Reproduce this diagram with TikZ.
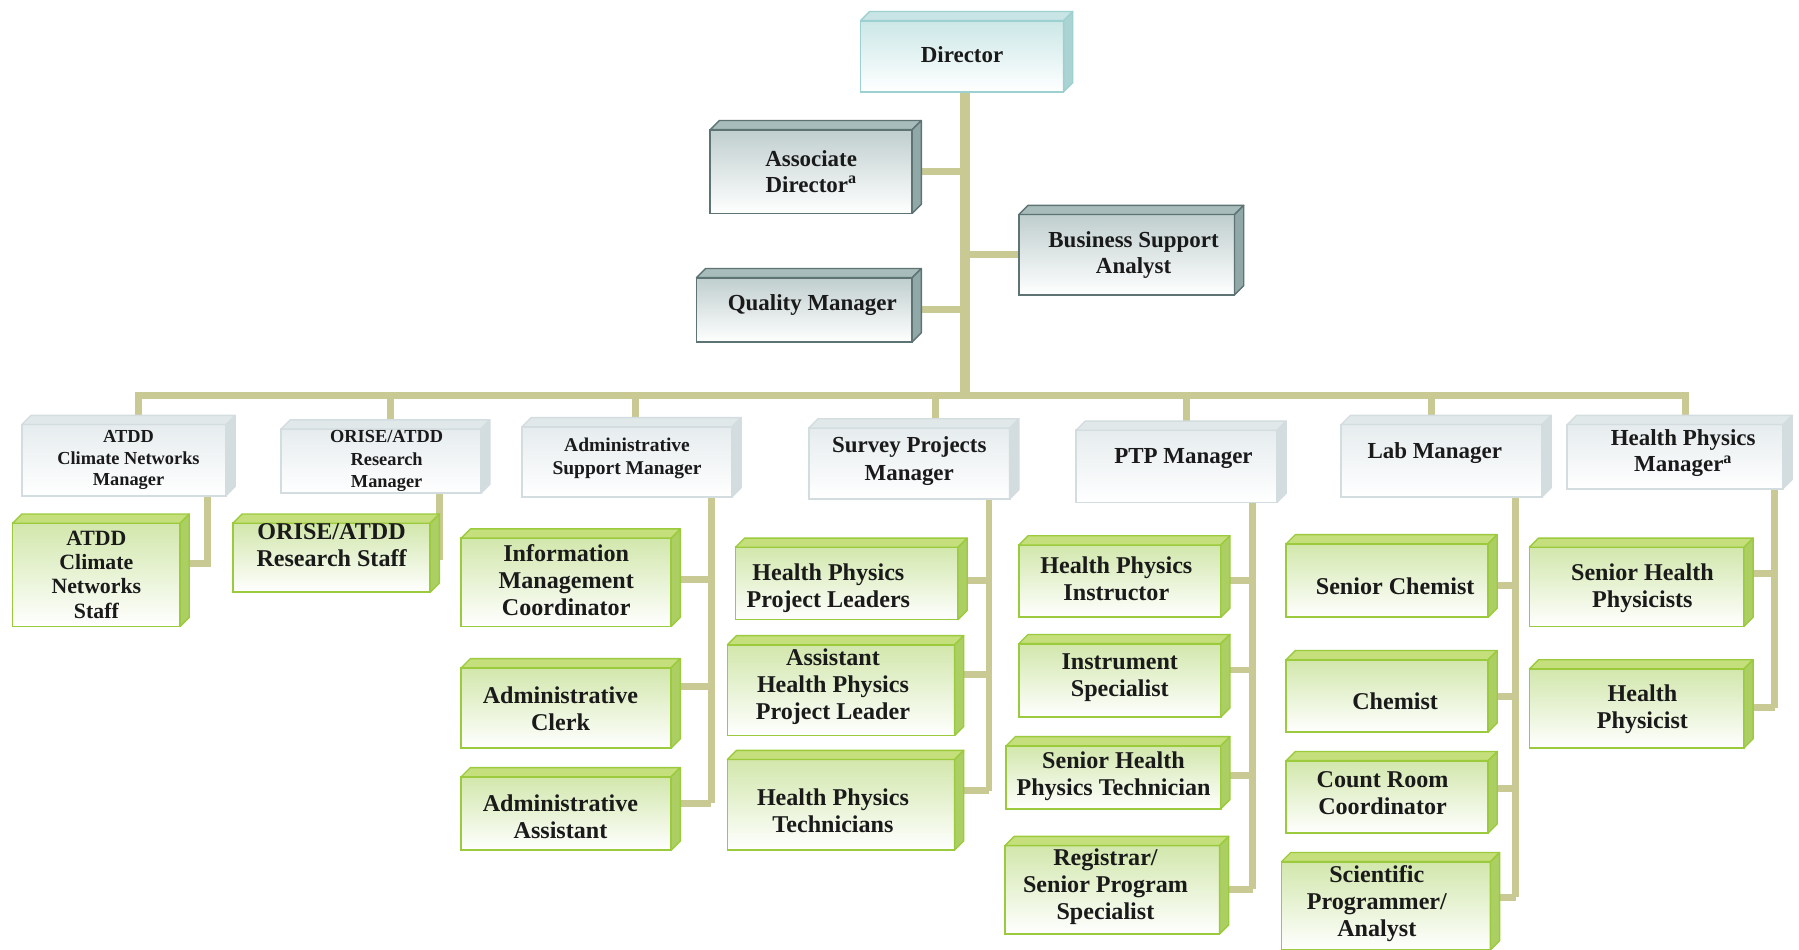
\documentclass[tikz,border=0pt]{standalone}
\usepackage{fontspec}
\setmainfont{Liberation Serif}
\pgfdeclarelayer{bg}
\pgfsetlayers{bg,main}
\definecolor{conn}{HTML}{C9C994}
\definecolor{txtc}{HTML}{1A1A1A}
% green staff boxes
\definecolor{grnB}{HTML}{9BCB3C}\definecolor{grnF}{HTML}{D2E7AC}
\definecolor{grnT}{HTML}{C5DF7C}\definecolor{grnS}{HTML}{ABCF62}
% manager boxes
\definecolor{mgrB}{HTML}{D3DCDE}\definecolor{mgrF}{HTML}{E6ECEE}
\definecolor{mgrT}{HTML}{E1E8EA}\definecolor{mgrS}{HTML}{D3DCDF}
% staff-office boxes
\definecolor{offB}{HTML}{5E7373}\definecolor{offF}{HTML}{C0CECE}
\definecolor{offT}{HTML}{A9BCBC}\definecolor{offS}{HTML}{90A8A8}
% director
\definecolor{dirB}{HTML}{9DD0D0}\definecolor{dirF}{HTML}{CCE7E7}
\definecolor{dirT}{HTML}{C9E4E4}\definecolor{dirS}{HTML}{ACD3D3}
\tikzset{
  frontbox/.style={rectangle, inner sep=0pt, outer sep=0pt, line width=1.5pt,
    draw=#1B, top color=#1F, bottom color=white},
  topface/.style={fill=#1T, draw=#1B, line width=1.2pt, line join=round},
  sideface/.style={fill=#1S, draw=#1B, line width=1.2pt, line join=round},
  boxtext/.style={align=center, text=txtc, inner sep=0pt,
    font=\fontsize{20}{23}\selectfont\bfseries},
  gtext/.style={font=\fontsize{21}{23.5}\selectfont\bfseries},
  conn/.style={draw=conn, line width=6pt},
  trunk/.style={draw=conn, line width=8pt},
}
% \obox{name}{kind}{x1}{y1}{x2}{y2}{text options}{text}
\newcommand\obox[8]{%
  \node[frontbox=#2, minimum width={#5-#3}, minimum height={#6-#4}]
     (#1) at ({(#3+#5)/2},{(#4+#6)/2}) {};
  \filldraw[topface=#2] (#1.north west) -- ++(8,-8)
     -- ([shift={(8,-8)}]#1.north east) -- (#1.north east) -- cycle;
  \filldraw[sideface=#2] (#1.north east) -- ++(8,-8)
     -- ([shift={(8,-8)}]#1.south east) -- (#1.south east) -- cycle;
  \node[boxtext, #7] at (#1.center) {#8};
}
\begin{document}
\begin{tikzpicture}[x=1pt, y=-1pt]
\useasboundingbox (0,0) rectangle (1568,828);
% top
\obox{dir}{dir}{750}{18}{927}{80}{yshift=1pt}{Director}
\obox{ad}{off}{619}{113}{795}{186}{yshift=0pt}{Associate\\Director\textsuperscript{a}}
\obox{bsa}{off}{888}{187}{1076}{257}{xshift=6pt}{Business Support\\Analyst}
\obox{qm}{off}{607}{242}{795}{298}{xshift=7pt, yshift=4pt}{Quality Manager}
% managers
\obox{m1}{mgr}{19}{370}{197}{432}{xshift=4pt, font=\fontsize{16}{19}\selectfont\bfseries}{ATDD\\Climate Networks\\Manager}
\obox{m2}{mgr}{245}{374}{419}{430}{xshift=5pt, font=\fontsize{16}{19.5}\selectfont\bfseries}{ORISE/ATDD\\Research\\Manager}
\obox{m3}{mgr}{455}{372}{638}{433}{yshift=3pt, font=\fontsize{17}{20}\selectfont\bfseries}{Administrative\\Support Manager}
\obox{m4}{mgr}{705}{373}{880}{435}{yshift=2pt, font=\fontsize{20}{24}\selectfont\bfseries}{Survey Projects\\Manager}
\obox{m5}{mgr}{938}{375}{1113}{438}{xshift=6pt, yshift=7pt}{PTP Manager}
\obox{m6}{mgr}{1169}{370}{1344}{433}{xshift=-6pt, yshift=7pt}{Lab Manager}
\obox{m7}{mgr}{1366}{370}{1554}{426}{xshift=7pt, yshift=3pt}{Health Physics\\Manager\textsuperscript{a}}
% staff
\obox{s11}{grn}{11}{456}{157}{546}{font=\fontsize{19}{21}\selectfont\bfseries}{ATDD\\Climate\\Networks\\Staff}
\obox{s21}{grn}{203}{456}{375}{516}{gtext, yshift=11pt}{ORISE/ATDD\\Research Staff}
\obox{s31}{grn}{402}{469}{585}{546}{gtext, yshift=2pt}{Information\\Management\\Coordinator}
\obox{s32}{grn}{402}{582}{585}{652}{gtext, xshift=-5pt, yshift=-1pt}{Administrative\\Clerk}
\obox{s33}{grn}{402}{677}{585}{741}{gtext, xshift=-5pt, yshift=-3pt}{Administrative\\Assistant}
\obox{s41}{grn}{641}{477}{835}{540}{gtext, xshift=-16pt, yshift=-4pt}{Health Physics\\Project Leaders}
\obox{s42}{grn}{634}{562}{832}{641}{gtext, xshift=-7pt, yshift=3pt}{Assistant\\Health Physics\\Project Leader}
\obox{s43}{grn}{634}{662}{832}{741}{gtext, xshift=-7pt, yshift=-5pt}{Health Physics\\Technicians}
\obox{s51}{grn}{888}{475}{1064}{538}{gtext, xshift=-3pt, yshift=2pt}{Health Physics\\Instructor}
\obox{s52}{grn}{888}{561}{1064}{625}{gtext, yshift=2pt}{Instrument\\Specialist}
\obox{s53}{grn}{877}{650}{1064}{705}{gtext, yshift=1pt}{Senior Health\\Physics Technician}
\obox{s54}{grn}{876}{737}{1063}{814}{gtext, xshift=-6pt, yshift=3pt}{Registrar/\\Senior Program\\Specialist}
\obox{s61}{grn}{1121}{474}{1297}{538}{gtext, xshift=7pt, yshift=-5pt}{Senior Chemist}
\obox{s62}{grn}{1121}{575}{1297}{638}{gtext, xshift=7pt, yshift=-5pt}{Chemist}
\obox{s63}{grn}{1121}{663}{1297}{726}{gtext, xshift=-4pt, yshift=3pt}{Count Room\\Coordinator}
\obox{s64}{grn}{1117}{751}{1299}{828}{gtext, xshift=-8pt, yshift=2pt}{Scientific\\Programmer/\\Analyst}
\obox{s71}{grn}{1333}{477}{1520}{546}{gtext, xshift=5pt, yshift=-1pt}{Senior Health\\Physicists}
\obox{s72}{grn}{1333}{583}{1520}{652}{gtext, xshift=5pt, yshift=-1pt}{Health\\Physicist}
% connector coordinates
\coordinate (bus) at (841,345);
\coordinate (b1) at (121,345);
\coordinate (b2) at (340,345);
\coordinate (b3) at (554,345);
\coordinate (b4) at (815,345);
\coordinate (b5) at (1034,345);
\coordinate (b6) at (1248,345);
\coordinate (b7) at (1469,345);
\coordinate (c11) at (181,491);
\coordinate (c21) at (383,485);
\coordinate (c31) at (620,505);
\coordinate (c32) at (620,598);
\coordinate (c33) at (620,700);
\coordinate (c41) at (862,506);
\coordinate (c42) at (862,588);
\coordinate (c43) at (862,689);
\coordinate (c51) at (1092,506);
\coordinate (c52) at (1092,584);
\coordinate (c53) at (1092,676);
\coordinate (c54) at (1092,775);
\coordinate (c61) at (1321,510);
\coordinate (c62) at (1321,607);
\coordinate (c63) at (1321,687);
\coordinate (c64) at (1321,782);
\coordinate (c71) at (1547,500);
\coordinate (c72) at (1547,617);
\begin{pgfonlayer}{bg}
\draw[trunk] (dir.south -| bus) -- (bus);
\draw[conn] (ad.east) -- (ad.east -| bus);
\draw[conn] (bsa.west) -- (bsa.west -| bus);
\draw[conn] (qm.east) -- (qm.east -| bus);
\draw[conn, line cap=rect] (b1) -- (b7);
\draw[conn] (b1) -- (b1 |- m1.north);
\draw[conn] (b2) -- (b2 |- m2.north);
\draw[conn] (b3) -- (b3 |- m3.north);
\draw[conn] (b4) -- (b4 |- m4.north);
\draw[conn] (b5) -- (b5 |- m5.north);
\draw[conn] (b6) -- (b6 |- m6.north);
\draw[conn] (b7) -- (b7 |- m7.north);
\draw[conn] (m1.south -| c11) -- (c11) -- (c11 -| s11.east);
\draw[conn] (m2.south -| c21) -- (c21) -- (c21 -| s21.east);
\draw[conn] (m3.south -| c31) -- (c33);
\draw[conn] (c31) -- (c31 -| s31.east);
\draw[conn] (c32) -- (c32 -| s32.east);
\draw[conn] (c33) -- (c33 -| s33.east);
\draw[conn] (m4.south -| c41) -- (c43);
\draw[conn] (c41) -- (c41 -| s41.east);
\draw[conn] (c42) -- (c42 -| s42.east);
\draw[conn] (c43) -- (c43 -| s43.east);
\draw[conn] (m5.south -| c51) -- (c54);
\draw[conn] (c51) -- (c51 -| s51.east);
\draw[conn] (c52) -- (c52 -| s52.east);
\draw[conn] (c53) -- (c53 -| s53.east);
\draw[conn] (c54) -- (c54 -| s54.east);
\draw[conn] (m6.south -| c61) -- (c64);
\draw[conn] (c61) -- (c61 -| s61.east);
\draw[conn] (c62) -- (c62 -| s62.east);
\draw[conn] (c63) -- (c63 -| s63.east);
\draw[conn] (c64) -- (c64 -| s64.east);
\draw[conn] (m7.south -| c71) -- (c72);
\draw[conn] (c71) -- (c71 -| s71.east);
\draw[conn] (c72) -- (c72 -| s72.east);
\end{pgfonlayer}
\end{tikzpicture}
\end{document}
